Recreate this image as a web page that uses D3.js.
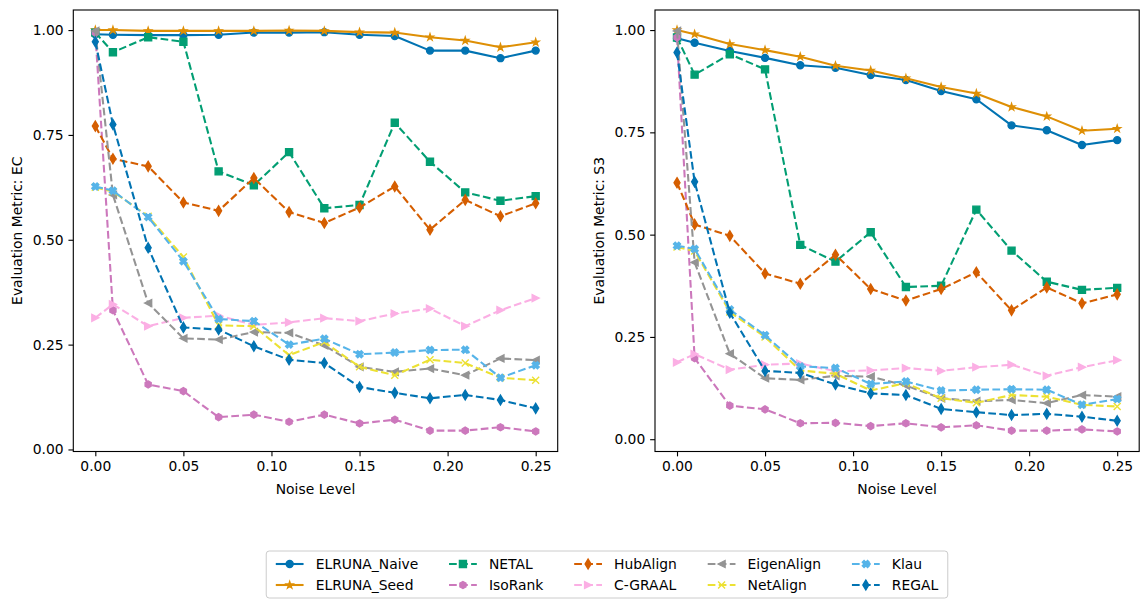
<!DOCTYPE html>
<html>
<head>
<meta charset="utf-8">
<script src="https://cdn.jsdelivr.net/npm/d3@7"></script>
<style>
  body { margin: 0; background: #fff; }
  svg { display: block; }
  text { font-family: "DejaVu Sans", sans-serif; fill: #000; }
</style>
</head>
<body>
<svg id="chart" width="1143" height="600"></svg>
<script>
// ---- data -------------------------------------------------------------
const noiseLevels = [0, 0.01, 0.03, 0.05, 0.07, 0.09, 0.11, 0.13, 0.15, 0.17, 0.19, 0.21, 0.23, 0.25];
const xTickValues = [0, 0.05, 0.10, 0.15, 0.20, 0.25];
const yTickValues = [0, 0.25, 0.5, 0.75, 1.0];

const methodNames = ["ELRUNA_Naive", "ELRUNA_Seed", "NETAL", "IsoRank", "HubAlign",
                     "C-GRAAL", "EigenAlign", "NetAlign", "Klau", "REGAL"];

// Edge correctness (EC)
const ecNaive    = [0.990, 0.989, 0.988, 0.988, 0.989, 0.994, 0.994, 0.995, 0.989, 0.986, 0.951, 0.951, 0.933, 0.951];
const ecSeed     = [1.000, 1.000, 0.998, 0.998, 0.998, 0.998, 0.999, 0.998, 0.995, 0.994, 0.983, 0.975, 0.959, 0.971];
const ecNetal    = [0.994, 0.947, 0.983, 0.972, 0.663, 0.630, 0.709, 0.575, 0.583, 0.779, 0.686, 0.613, 0.593, 0.604];
const ecIsoRank  = [0.994, 0.332, 0.155, 0.139, 0.077, 0.083, 0.066, 0.083, 0.062, 0.071, 0.045, 0.045, 0.053, 0.043];
const ecHubAlign = [0.771, 0.693, 0.675, 0.589, 0.569, 0.647, 0.566, 0.540, 0.577, 0.627, 0.524, 0.595, 0.556, 0.587];
const ecCgraal   = [0.314, 0.346, 0.294, 0.314, 0.319, 0.297, 0.303, 0.313, 0.306, 0.324, 0.336, 0.294, 0.332, 0.361];
const ecEigen    = [0.998, 0.607, 0.349, 0.265, 0.262, 0.280, 0.278, 0.248, 0.197, 0.185, 0.193, 0.177, 0.217, 0.213];
const ecNetAlign = [0.625, 0.615, 0.556, 0.459, 0.296, 0.294, 0.225, 0.256, 0.197, 0.177, 0.214, 0.206, 0.171, 0.165];
const ecKlau     = [0.627, 0.617, 0.554, 0.449, 0.311, 0.306, 0.250, 0.264, 0.227, 0.231, 0.237, 0.238, 0.171, 0.201];
const ecRegal    = [0.972, 0.775, 0.481, 0.291, 0.286, 0.246, 0.214, 0.206, 0.149, 0.135, 0.122, 0.130, 0.118, 0.098];

// Symmetric substructure score (S3)
const s3Naive    = [0.980, 0.969, 0.949, 0.932, 0.914, 0.908, 0.890, 0.878, 0.851, 0.831, 0.767, 0.755, 0.719, 0.731];
const s3Seed     = [1.000, 0.990, 0.966, 0.951, 0.935, 0.913, 0.901, 0.882, 0.861, 0.845, 0.812, 0.789, 0.754, 0.759];
const s3Netal    = [0.982, 0.891, 0.941, 0.904, 0.475, 0.434, 0.506, 0.372, 0.375, 0.561, 0.461, 0.385, 0.365, 0.370];
const s3IsoRank  = [0.982, 0.198, 0.082, 0.073, 0.039, 0.040, 0.032, 0.039, 0.029, 0.034, 0.021, 0.021, 0.024, 0.019];
const s3HubAlign = [0.627, 0.525, 0.497, 0.405, 0.380, 0.451, 0.367, 0.339, 0.367, 0.408, 0.315, 0.371, 0.332, 0.354];
const s3Cgraal   = [0.188, 0.208, 0.170, 0.182, 0.185, 0.166, 0.168, 0.174, 0.167, 0.176, 0.182, 0.155, 0.176, 0.193];
const s3Eigen    = [0.998, 0.432, 0.209, 0.149, 0.145, 0.155, 0.153, 0.131, 0.100, 0.093, 0.096, 0.088, 0.108, 0.104];
const s3NetAlign = [0.470, 0.460, 0.311, 0.250, 0.168, 0.160, 0.119, 0.137, 0.100, 0.089, 0.108, 0.104, 0.084, 0.080];
const s3Klau     = [0.473, 0.465, 0.317, 0.254, 0.178, 0.174, 0.135, 0.141, 0.119, 0.121, 0.122, 0.121, 0.084, 0.098];
const s3Regal    = [0.945, 0.629, 0.309, 0.167, 0.162, 0.134, 0.112, 0.108, 0.074, 0.066, 0.059, 0.062, 0.055, 0.045];

const ecSeries = [ecNaive, ecSeed, ecNetal, ecIsoRank, ecHubAlign, ecCgraal, ecEigen, ecNetAlign, ecKlau, ecRegal];
const s3Series = [s3Naive, s3Seed, s3Netal, s3IsoRank, s3HubAlign, s3Cgraal, s3Eigen, s3NetAlign, s3Klau, s3Regal];

// ---- styles -----------------------------------------------------------
const methodColors  = ["#0173b2", "#de8f05", "#029e73", "#cc78bc", "#d55e00",
                       "#fbafe4", "#949494", "#ece133", "#56b4e9", "#0173b2"];
const methodMarkers = ["circle", "star", "square", "hexagon", "thinDiamond",
                       "triRight", "triLeft", "x", "xFilled", "thinDiamond"];
const methodDashed  = [false, false, true, true, true, true, true, true, true, true];

const PT = 100 / 72;              // points -> pixels
const FONT = 10 * PT;             // 13.9px
const LINE_W = 1.5 * PT;
const DASH = [3.7 * 1.5 * PT, 1.6 * 1.5 * PT].join(",");
const MS = 7;                     // marker size in px
const MEW = 1 * PT;               // marker edge width

// marker outlines, centred on 0,0
function markerPath(kind, s) {
  const h = s / 2;
  const poly = pts => "M" + pts.map(p => p[0].toFixed(3) + "," + p[1].toFixed(3)).join("L") + "Z";
  switch (kind) {
    case "circle":
      return `M${h},0A${h},${h} 0 1,1 ${-h},0A${h},${h} 0 1,1 ${h},0Z`;
    case "square":
      return poly([[-h, -h], [h, -h], [h, h], [-h, h]]);
    case "star": {
      const pts = [];
      for (let i = 0; i < 10; i++) {
        const r = i % 2 === 0 ? h : h * 0.381966;
        const a = -Math.PI / 2 + i * Math.PI / 5;
        pts.push([r * Math.cos(a), r * Math.sin(a)]);
      }
      return poly(pts);
    }
    case "hexagon": {
      const pts = [];
      for (let i = 0; i < 6; i++) {
        const a = -Math.PI / 2 + i * Math.PI / 3;
        pts.push([h * Math.cos(a), h * Math.sin(a)]);
      }
      return poly(pts);
    }
    case "thinDiamond": {
      const v = s * Math.SQRT1_2, w = 0.6 * v;
      return poly([[0, -v], [w, 0], [0, v], [-w, 0]]);
    }
    case "triRight":
      return poly([[h, 0], [-h, -h], [-h, h]]);
    case "triLeft":
      return poly([[-h, 0], [h, -h], [h, h]]);
    case "x":
      return `M${-h},${-h}L${h},${h}M${-h},${h}L${h},${-h}`;
    case "xFilled": {
      const base = [[-1, -2], [0, -1], [1, -2], [2, -1], [1, 0], [2, 1],
                    [1, 2], [0, 1], [-1, 2], [-2, 1], [-1, 0], [-2, -1]];
      return poly(base.map(p => [p[0] / 4 * s, p[1] / 4 * s]));
    }
  }
}

function drawMarker(sel, i) {
  const kind = methodMarkers[i];
  const filled = kind !== "x";
  sel.append("path")
    .attr("d", markerPath(kind, MS))
    .attr("fill", filled ? methodColors[i] : "none")
    .attr("stroke", methodColors[i])
    .attr("stroke-width", MEW)
    .attr("stroke-linejoin", "miter");
}

// ---- chart ------------------------------------------------------------
const svg = d3.select("#chart");

const panels = [
  { series: ecSeries, label: "Evaluation Metric: EC", left: 73.3, right: 557.7 },
  { series: s3Series, label: "Evaluation Metric: S3", left: 655.0, right: 1139.2 }
];
const plotTop = 10.0, plotBottom = 451.5;

panels.forEach(panel => {
  // axis limits with 5% padding around the data
  const xExt = d3.extent(noiseLevels);
  const xPad = (xExt[1] - xExt[0]) * 0.05;
  const allY = panel.series.flat();
  const yExt = d3.extent(allY);
  const yPad = (yExt[1] - yExt[0]) * 0.05;

  const x = d3.scaleLinear().domain([xExt[0] - xPad, xExt[1] + xPad]).range([panel.left, panel.right]);
  const y = d3.scaleLinear().domain([yExt[0] - yPad, yExt[1] + yPad]).range([plotBottom, plotTop]);

  const g = svg.append("g");

  // lines + markers, in series order
  const line = d3.line().x((d, k) => x(noiseLevels[k])).y(d => y(d));
  panel.series.forEach((vals, i) => {
    const sg = g.append("g");
    sg.append("path")
      .datum(vals)
      .attr("d", line)
      .attr("fill", "none")
      .attr("stroke", methodColors[i])
      .attr("stroke-width", LINE_W)
      .attr("stroke-dasharray", methodDashed[i] ? DASH : null)
      .attr("stroke-linecap", methodDashed[i] ? "butt" : "round")
      .attr("stroke-linejoin", "round");
    vals.forEach((v, k) => {
      const mg = sg.append("g").attr("transform", `translate(${x(noiseLevels[k])},${y(v)})`);
      drawMarker(mg, i);
    });
  });

  // axes
  const tickLen = 3.5 * PT;
  const xAxis = d3.axisBottom(x).tickValues(xTickValues).tickFormat(d3.format(".2f"))
    .tickSize(tickLen).tickPadding(3.5 * PT);
  const yAxis = d3.axisLeft(y).tickValues(yTickValues).tickFormat(d3.format(".2f"))
    .tickSize(tickLen).tickPadding(3.5 * PT);

  const gx = g.append("g").attr("transform", `translate(0,${plotBottom})`).call(xAxis);
  const gy = g.append("g").attr("transform", `translate(${panel.left},0)`).call(yAxis);
  [gx, gy].forEach(a => {
    a.select(".domain").remove();
    a.selectAll(".tick line").attr("stroke", "#000").attr("stroke-width", 0.8 * PT);
    a.selectAll(".tick text").attr("font-size", FONT).attr("font-family", "DejaVu Sans").attr("fill", "#000");
  });

  // frame
  g.append("rect")
    .attr("x", panel.left).attr("y", plotTop)
    .attr("width", panel.right - panel.left).attr("height", plotBottom - plotTop)
    .attr("fill", "none").attr("stroke", "#000").attr("stroke-width", 0.8 * PT);

  // axis titles
  g.append("text")
    .attr("x", (panel.left + panel.right) / 2).attr("y", 494)
    .attr("text-anchor", "middle").attr("font-size", FONT)
    .text("Noise Level");
  g.append("text")
    .attr("transform", `translate(${panel.left - 51},${(plotTop + plotBottom) / 2}) rotate(-90)`)
    .attr("text-anchor", "middle").attr("font-size", FONT)
    .text(panel.label);
});

// ---- legend (5 columns, filled column by column) ----------------------
const nCol = 5, nRow = 2;
const handleLen = 2 * FONT, handlePad = 0.8 * FONT + 1, colSpace = 2 * FONT + 3, borderPad = 0.4 * FONT + 1;
const rowStep = 21;
const legend = svg.append("g");
const frame = legend.append("rect");

// measure labels
const probe = svg.append("text").attr("font-size", FONT);
const labelW = methodNames.map(n => { probe.text(n); return probe.node().getComputedTextLength(); });
probe.remove();

const colW = d3.range(nCol).map(c => d3.max(d3.range(nRow).map(r => labelW[c * nRow + r] || 0)));
const innerW = d3.sum(colW) + nCol * (handleLen + handlePad) + (nCol - 1) * colSpace;
const boxW = innerW + 2 * borderPad + 6;
const centerX = 607;
const boxLeft = centerX - boxW / 2;
const boxTop = 551, boxH = 47;
frame.attr("x", boxLeft).attr("y", boxTop).attr("width", boxW).attr("height", boxH)
  .attr("rx", 3).attr("fill", "#fff").attr("fill-opacity", 0.8)
  .attr("stroke", "#cccccc").attr("stroke-width", 1);

let cx = boxLeft + borderPad + 3;
for (let c = 0; c < nCol; c++) {
  for (let r = 0; r < nRow; r++) {
    const i = c * nRow + r;
    const cy = boxTop + 13 + r * rowStep;
    const item = legend.append("g");
    item.append("line")
      .attr("x1", cx).attr("x2", cx + handleLen).attr("y1", cy).attr("y2", cy)
      .attr("stroke", methodColors[i]).attr("stroke-width", LINE_W)
      .attr("stroke-dasharray", methodDashed[i] ? DASH : null);
    const mg = item.append("g").attr("transform", `translate(${cx + handleLen / 2},${cy})`);
    drawMarker(mg, i);
    item.append("text")
      .attr("x", cx + handleLen + handlePad).attr("y", cy + 5)
      .attr("font-size", FONT)
      .text(methodNames[i]);
  }
  cx += handleLen + handlePad + colW[c] + colSpace;
}
</script>
</body>
</html>
